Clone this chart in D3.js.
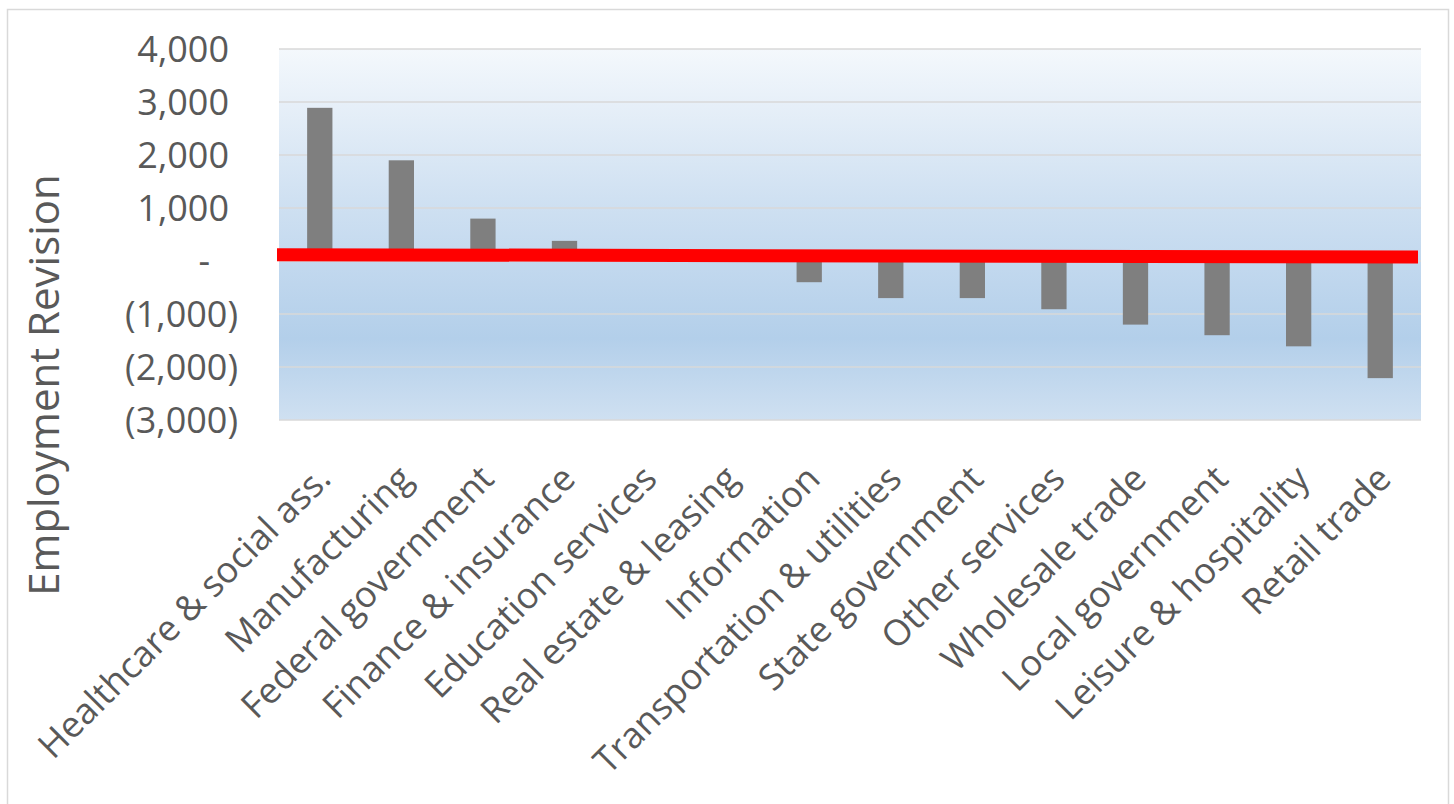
<!DOCTYPE html>
<html>
<head>
<meta charset="utf-8">
<script src="https://cdn.jsdelivr.net/npm/d3@7"></script>
<style>
  body { margin: 0; background: #fff; }
  text { font-family: "Open Sans", sans-serif; fill: #595959; }
</style>
</head>
<body>
<div id="chart"></div>
<script>
var width = 1454
var height = 804

// data
const categories = ["Healthcare & social ass.", "Manufacturing", "Federal government",
  "Finance & insurance", "Education services", "Real estate & leasing", "Information",
  "Transportation & utilities", "State government", "Other services", "Wholesale trade",
  "Local government", "Leisure & hospitality", "Retail trade"];
const revisions = [2890, 1900, 800, 380, 0, 0, -400, -700, -700, -910, -1200, -1400, -1610, -2210];
const yTicks = [4000, 3000, 2000, 1000, 0, -1000, -2000, -3000];
// red marker line, value at left end and right end of plot
const redLinePos = [0, 1];
const redLineVal = [120, 75];

const plot = { left: 279, right: 1421, top: 49, bottom: 420 };

const svg = d3.select("#chart")
    .append("svg")
    .attr("width", width)
    .attr("height", height);

// outer chart border
svg.append("rect")
    .attr("x", 7.5).attr("y", 9.5)
    .attr("width", 1441).attr("height", 820)
    .attr("fill", "#fff")
    .attr("stroke", "#d9d9d9")
    .attr("stroke-width", 1.5);

const defs = svg.append("defs");
const grad = defs.append("linearGradient")
    .attr("id", "bg")
    .attr("x1", 0).attr("y1", 0).attr("x2", 0).attr("y2", 1);
grad.append("stop").attr("offset", "0%").attr("stop-color", "#f4f8fc");
grad.append("stop").attr("offset", "40%").attr("stop-color", "#d0e1f2");
grad.append("stop").attr("offset", "78%").attr("stop-color", "#b3cfea");
grad.append("stop").attr("offset", "100%").attr("stop-color", "#cfe0f1");

const x = d3.scaleBand()
    .domain(categories)
    .range([plot.left, plot.right])
    .paddingInner(0.69)
    .paddingOuter(0.345);

const y = d3.scaleLinear()
    .domain([-3000, 4000])
    .range([plot.bottom, plot.top]);

// plot background
svg.append("rect")
    .attr("x", plot.left).attr("y", plot.top)
    .attr("width", plot.right - plot.left)
    .attr("height", plot.bottom - plot.top)
    .attr("fill", "url(#bg)");

// gridlines
svg.append("g")
    .selectAll("line")
    .data(yTicks)
    .enter()
    .append("line")
    .attr("x1", plot.left).attr("x2", plot.right)
    .attr("y1", d => y(d)).attr("y2", d => y(d))
    .attr("stroke", "#d9d9d9")
    .attr("stroke-width", 1.3);

// y tick labels in accounting style
const fmt = d3.format(",");
svg.append("g")
    .selectAll("text")
    .data(yTicks)
    .enter()
    .append("text")
    .attr("x", 238)
    .attr("y", d => y(d))
    .attr("dy", "0.36em")
    .attr("dx", d => d > 0 ? -9 : (d == 0 ? -28 : 0))
    .attr("text-anchor", "end")
    .style("font-size", "36px")
    .text(d => d == 0 ? "-" : (d < 0 ? "(" + fmt(-d) + ")" : fmt(d)));

// bars
svg.append("g")
    .selectAll("rect")
    .data(revisions)
    .enter()
    .append("rect")
    .attr("x", (d, i) => x(categories[i]))
    .attr("width", x.bandwidth())
    .attr("y", d => y(Math.max(0, d)))
    .attr("height", d => Math.abs(y(d) - y(0)))
    .attr("fill", "#7f7f7f");

// red line
const lx = d3.scaleLinear().domain([0, 1]).range([277, 1418]);
svg.append("path")
    .datum(redLinePos.map((p, i) => [p, redLineVal[i]]))
    .attr("d", d3.line().x(d => lx(d[0])).y(d => y(d[1])))
    .attr("fill", "none")
    .attr("stroke", "#ff0000")
    .attr("stroke-width", 13);

// category labels
svg.append("g")
    .selectAll("text")
    .data(categories)
    .enter()
    .append("text")
    .attr("transform", d => "translate(" + (x(d) + x.bandwidth() / 2 + 4) + ",472) rotate(-45)")
    .attr("text-anchor", "end")
    .attr("dy", "0.35em")
    .style("font-size", "36px")
    .text(d => d);

// y axis title
svg.append("text")
    .attr("transform", "translate(44,385) rotate(-90)")
    .attr("text-anchor", "middle")
    .attr("dy", "0.35em")
    .style("font-size", "42px")
    .text("Employment Revision");
</script>
</body>
</html>
